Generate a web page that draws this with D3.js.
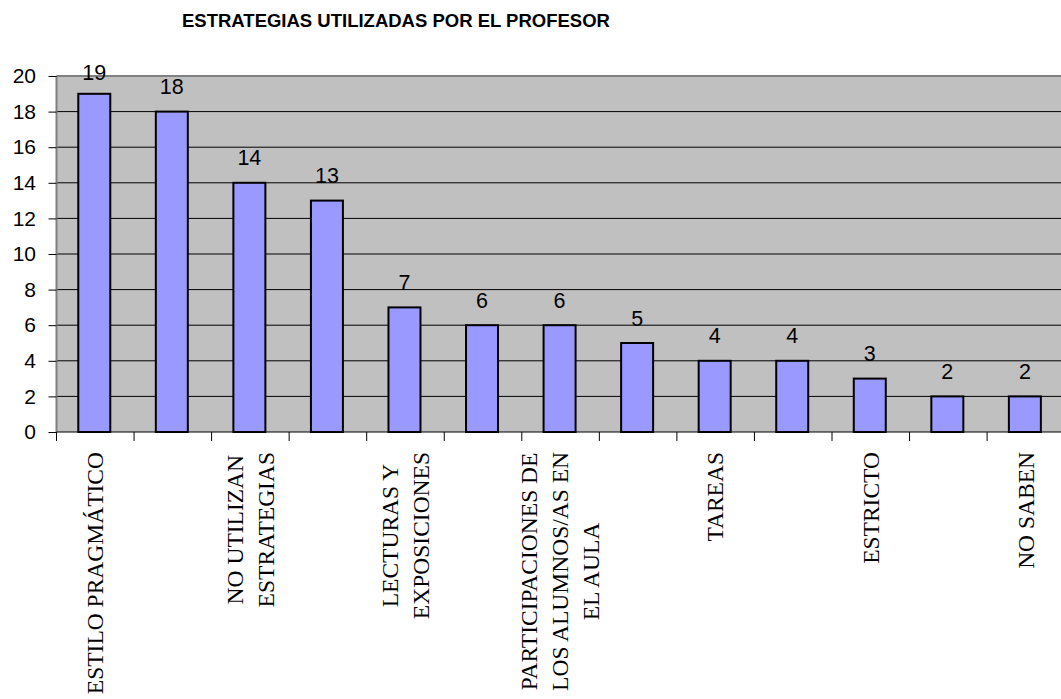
<!DOCTYPE html>
<html><head><meta charset="utf-8">
<script src="https://cdn.jsdelivr.net/npm/d3@7/dist/d3.min.js"></script>
<style>body{margin:0;background:#fff}svg{display:block}</style>
</head><body>
<svg id="c" width="1061" height="699"></svg>
<script>
const title = "ESTRATEGIAS UTILIZADAS POR EL PROFESOR";
const categories = [
  ["ESTILO PRAGMÁTICO"], [""], ["NO UTILIZAN", "ESTRATEGIAS"], [""],
  ["LECTURAS Y", "EXPOSICIONES"], [""], ["PARTICIPACIONES DE", "LOS ALUMNOS/AS EN", "EL AULA"],
  [""], ["TAREAS"], [""], ["ESTRICTO"], [""], ["NO SABEN"]
];
const values = [19, 18, 14, 13, 7, 6, 6, 5, 4, 4, 3, 2, 2];
const yTicks = [0, 2, 4, 6, 8, 10, 12, 14, 16, 18, 20];

const svg = d3.select("#c");
const plotL = 56.5, plotT = 76, plotB = 432, bw = 77.55;
const plotR = plotL + bw * values.length;

const x = d3.scaleBand().domain(d3.range(values.length)).range([plotL, plotR]).padding(0);
const y = d3.scaleLinear().domain([0, 20]).range([plotB, plotT]);

// title
svg.append("text").attr("x", 182).attr("y", 27)
  .attr("font-family", "Liberation Sans, Arial, sans-serif").attr("font-weight", "bold")
  .attr("font-size", 18.5).attr("fill", "#000").text(title);

// plot background
svg.append("rect").attr("x", plotL).attr("y", plotT).attr("width", plotR - plotL).attr("height", plotB - plotT)
  .attr("fill", "#c0c0c0");

// gridlines
svg.append("g").selectAll("line").data(yTicks.filter(d => d > 0 && d < 20)).join("line")
  .attr("x1", plotL).attr("x2", plotR).attr("y1", d => y(d)).attr("y2", d => y(d))
  .attr("stroke", "#000").attr("stroke-width", 1);
// top border
svg.append("line").attr("x1", plotL).attr("x2", plotR).attr("y1", plotT).attr("y2", plotT)
  .attr("stroke", "#808080").attr("stroke-width", 2);

// bars
svg.append("g").selectAll("rect").data(values).join("rect")
  .attr("x", (d, i) => x(i) + x.bandwidth() / 2 - 17)
  .attr("y", d => y(d))
  .attr("width", 32)
  .attr("height", d => plotB - y(d))
  .attr("fill", "#9999ff").attr("stroke", "#000").attr("stroke-width", 2);

// value labels
svg.append("g").selectAll("text").data(values).join("text")
  .attr("x", (d, i) => x(i) + x.bandwidth() / 2 - 1)
  .attr("y", d => Math.max(y(d) - 17.5, 80))
  .attr("text-anchor", "middle")
  .attr("font-family", "Liberation Sans, Arial, sans-serif").attr("font-size", 21.5)
  .attr("fill", "#000").text(d => d);

// y axis
const yAxis = d3.axisLeft(y).tickValues(yTicks).tickSize(8).tickPadding(4);
const gy = svg.append("g").attr("transform", `translate(${plotL},0)`).call(yAxis);
gy.select(".domain").attr("stroke", "#808080").attr("stroke-width", 2).attr("d", `M0,${plotT}V${plotB}`);
gy.selectAll(".tick line").attr("stroke", "#000");
gy.selectAll(".tick text").attr("font-family", "Liberation Sans, Arial, sans-serif")
  .attr("font-size", 21).attr("fill", "#000").attr("x", -20.5);

// x axis
svg.append("line").attr("x1", plotL).attr("x2", plotR).attr("y1", plotB).attr("y2", plotB)
  .attr("stroke", "#000").attr("stroke-width", 1);
svg.append("g").selectAll("line").data(d3.range(values.length + 1)).join("line")
  .attr("x1", i => plotL + i * bw).attr("x2", i => plotL + i * bw)
  .attr("y1", plotB).attr("y2", plotB + 9).attr("stroke", "#000");

// category labels (rotated)
const labelTop = 452, lineH = 31, fs = 23.5;
categories.forEach((lines, i) => {
  if (lines.join("") === "") return;
  const cx = x(i) + x.bandwidth() / 2;
  const g = svg.append("g");
  const texts = lines.map(t => g.append("text")
    .attr("font-family", "Liberation Serif, Times New Roman, serif")
    .attr("font-size", fs).attr("fill", "#000").attr("text-anchor", "middle").text(t));
  const maxLen = d3.max(texts, t => t.node().getComputedTextLength());
  const midY = labelTop + maxLen / 2;
  const n = lines.length;
  texts.forEach((t, k) => {
    const lx = cx + (k - (n - 1) / 2) * lineH;
    t.attr("transform", `translate(${lx + fs * 0.33},${midY}) rotate(-90)`);
  });
});
</script>
</body></html>
